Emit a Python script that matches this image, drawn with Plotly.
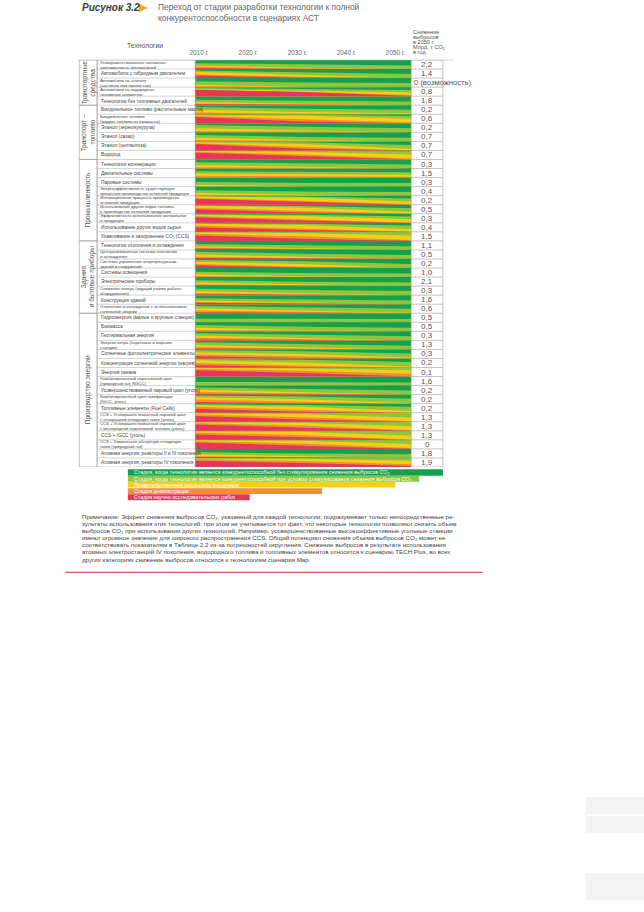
import plotly.graph_objects as go

W, H = 644, 912


def px(x):
    return x / W


def py(y):
    return 1 - y / H


FONT = "Liberation Sans, Arial, sans-serif"

# ---------------- data ----------------
years = [2010, 2020, 2030, 2040, 2050]
year_labels = ["2010 г.", "2020 г.", "2030 г.", "2040 г.", "2050 г."]
t_points = [2009.2, 2031.0, 2053.2]  # start / middle / end of each band

techs = [
    ["Усовершенствованная топливная", "экономичность автомобилей"],
    ["Автомобили с гибридным двигателем"],
    ["Автомобили на этаноле", "(частично или полностью)"],
    ["Автомобили на водородных", "топливных элементах"],
    ["Технологии без топливных двигателей"],
    ["Биодизельное топливо (растительные масла)"],
    ["Биодизельное топливо", "(жидкое топливо из биомассы)"],
    ["Этанол (зерно/кукуруза)"],
    ["Этанол (сахар)"],
    ["Этанол (целлюлоза)"],
    ["Водород"],
    ["Технологии когенерации"],
    ["Двигательные системы"],
    ["Паровые системы"],
    ["Энергоэффективность существующих", "процессов производства основной продукции"],
    ["Инновационные процессы производства", "основной продукции"],
    ["Использование других видов топлива", "в производстве основной продукции"],
    ["Эффективность использования материалов", "и продукции"],
    ["Использование других видов сырья"],
    ["Улавливание и захоронение CO₂ (CCS)"],
    ["Технологии отопления и охлаждения"],
    ["Централизованные системы отопления", "и охлаждения"],
    ["Системы управления энергоресурсами", "зданий и сооружений"],
    ["Системы освещения"],
    ["Электрические приборы"],
    ["Снижение потерь (ждущий режим работы", "оборудования)"],
    ["Конструкция зданий"],
    ["Отопление и охлаждение с использованием", "солнечной энергии"],
    ["Гидроэнергия (малые и крупные станции)"],
    ["Биомасса"],
    ["Геотермальная энергия"],
    ["Энергия ветра (береговые и морские", "станции)"],
    ["Солнечные фотоэлектрические элементы"],
    ["Концентрация солнечной энергии (нагрев)"],
    ["Энергия океана"],
    ["Комбинированный парогазовый цикл", "(природный газ, NGCC)"],
    ["Усовершенствованный паровой цикл (уголь)"],
    ["Комбинированный цикл газификации", "(IGCC, уголь)"],
    ["Топливные элементы (Fuel Cells)"],
    ["CCS + Усовершенствованный паровой цикл", "с сепарацией отходящих газов (уголь)"],
    ["CCS + Усовершенствованный паровой цикл", "с кислородной подготовкой топлива (уголь)"],
    ["CCS + IGCC (уголь)"],
    ["CCS + Химическая абсорбция отходящих", "газов (природный газ)"],
    ["Атомная энергия, реакторы II и III поколения"],
    ["Атомная энергия, реакторы IV поколения"],
]

values = ["2,2", "1,4", "0 (возможность)", "0,8", "1,8",
          "0,2", "0,6", "0,2", "0,7", "0,7", "0,7",
          "0,3", "1,5", "0,3", "0,4", "0,2", "0,5", "0,3", "0,4", "1,5",
          "1,1", "0,5", "0,2", "1,0", "2,1", "0,3", "1,6", "0,6",
          "0,5", "0,5", "0,3", "1,3", "0,3", "0,2", "0,1", "1,6", "0,2",
          "0,2", "0,2", "1,3", "1,3", "1,3", "0", "1,8", "1,9"]

group_names = [["Транспортные", "средства"], ["Транспорт –", "топливо"],
               ["Промышленность"], ["Здания", "и бытовые приборы"],
               ["Производство энергии"]]
group_rows = [(0, 5), (5, 11), (11, 20), (20, 28), (28, 45)]

# share of each row occupied by a stage at (start, middle, end); green = rest
red = [(.10, 0, 0), (.30, .05, 0), (0, 0, 0), (.70, .45, .02), (.10, .05, 0),
       (0, 0, 0), (.70, .20, 0), (0, 0, 0), (0, 0, 0), (.70, .20, 0), (.75, .35, 0),
       (0, 0, 0), (0, 0, 0), (0, 0, 0), (0, 0, 0), (.65, .30, 0), (.50, .15, 0),
       (.60, .25, 0), (.50, .20, 0), (.60, .25, 0),
       (.15, .05, 0), (.10, .03, 0), (.30, .05, 0), (0, 0, 0), (.10, .03, 0),
       (.10, .03, 0), (.15, .05, 0), (.10, .03, 0),
       (0, 0, 0), (0, 0, 0), (.10, .03, 0), (.10, .03, 0), (.25, .05, 0),
       (.25, .05, 0), (.70, .40, 0), (0, 0, 0), (.10, .03, 0), (.20, .05, 0),
       (.45, .10, 0), (.65, .25, 0), (.70, .35, 0), (.60, .30, 0), (.70, .35, 0),
       (.10, .03, 0), (.70, .45, .10)]
orange = [(.15, .05, 0), (.10, .10, 0), (.10, 0, 0), (.05, .05, .10), (.10, .05, 0),
          (.20, .05, 0), (.10, .25, .10), (.15, .05, 0), (.15, .05, 0), (.10, .20, 0), (.10, .20, .10),
          (.15, .05, 0), (.20, .15, .10), (0, 0, 0), (.10, 0, 0), (.10, .15, .05), (.15, .15, 0),
          (.15, .15, .05), (.20, .15, 0), (.20, .25, .10),
          (.10, .05, 0), (.15, .05, 0), (.15, .10, 0), (.10, 0, 0), (.10, .05, 0),
          (.15, .05, 0), (.10, .05, 0), (.20, .10, 0),
          (0, 0, 0), (.15, .05, 0), (.20, .10, 0), (.15, .05, 0), (.20, .15, 0),
          (.25, .15, 0), (.15, .25, .30), (0, 0, 0), (.20, .10, 0), (.25, .15, 0),
          (.20, .20, 0), (.15, .25, .05), (.15, .25, .05), (.20, .25, 0), (.15, .25, .10),
          (.10, .05, 0), (.15, .20, .20)]
yellow = [(.15, .10, 0), (.30, .20, .05), (.15, .05, 0), (.05, .15, .30), (.15, .10, .05),
          (.30, .20, .10), (.10, .40, .40), (.30, .15, 0), (.25, .10, 0), (.10, .30, .20), (.10, .30, .45),
          (.25, .15, .05), (.25, .20, .20), (.20, .05, 0), (.20, .10, 0), (.15, .35, .30), (.20, .40, .20),
          (.15, .35, .35), (.20, .40, .30), (.15, .35, .50),
          (.15, .10, 0), (.25, .15, 0), (.25, .30, 0), (.20, .10, 0), (.20, .10, 0),
          (.20, .15, 0), (.15, .10, 0), (.25, .20, .05),
          (0, 0, 0), (.25, .10, 0), (.25, .15, 0), (.25, .15, 0), (.25, .30, .10),
          (.30, .35, .10), (.10, .25, .40), (.05, 0, 0), (.25, .15, 0), (.25, .30, .05),
          (.20, .35, .20), (.15, .35, .40), (.10, .30, .45), (.15, .35, .45), (.10, .30, .45),
          (.20, .10, 0), (.10, .25, .40)]
light = [(.25, .35, .40), (.15, .30, .40), (.40, .45, .45), (.10, .15, .25), (.25, .30, .35),
         (.30, .35, .40), (.05, .10, .30), (.35, .40, .45), (.30, .35, .40), (.05, .20, .40), (.05, .10, .35),
         (.30, .35, .40), (.25, .30, .30), (.30, .35, .40), (.30, .35, .40), (.05, .10, .35), (.10, .15, .40),
         (.05, .15, .30), (.05, .15, .40), (.05, .15, .40),
         (.25, .30, .40), (.30, .35, .45), (.20, .30, .45), (.30, .35, .40), (.25, .30, .40),
         (.25, .35, .45), (.25, .30, .40), (.25, .35, .45),
         (.40, .38, .35), (.30, .35, .40), (.25, .35, .45), (.30, .35, .40), (.20, .30, .45),
         (.15, .30, .50), (.05, .10, .30), (.35, .35, .35), (.25, .35, .45), (.20, .30, .50),
         (.10, .20, .45), (.05, .15, .55), (.05, .10, .50), (.05, .10, .55), (.05, .10, .45),
         (.25, .30, .40), (.05, .10, .30)]

stage_colors = ["#14a04c", "#8dc63f", "#f6cf16", "#f18f34", "#e8365b"]
legend_texts = [
    "Стадия, когда технология является конкурентоспособной без стимулирования снижения выбросов CO₂",
    "Стадия, когда технология является конкурентоспособной при условии стимулирования снижения выбросов CO₂",
    "Правительственная поддержка внедрения",
    "Стадия демонстрации",
    "Стадия научно-исследовательских работ",
]

note_lines = [
    "Примечание: Эффект снижения выбросов CO₂, указанный для каждой технологии, подразумевает только непосредственные ре-",
    "зультаты использования этих технологий; при этом не учитывается тот факт, что некоторые технологии позволяют снизить объем",
    "выбросов CO₂ при использовании других технологий. Например, усовершенствованные высокоэффективные угольные станции",
    "имеют огромное значение для широкого распространения CCS. Общий потенциал снижения объема выбросов CO₂ может не",
    "соответствовать показателям в Таблице 2.2 из-за погрешностей округления. Снижение выбросов в результате использования",
    "атомных электростанций IV поколения, водородного топлива и топливных элементов относится к сценарию TECH Plus, во всех",
    "других категориях снижение выбросов относится к технологиям сценария Map.",
]

# ---------------- geometry ----------------
n = len(techs)
TOP, BOT = 60, 467
X0, X1 = 191, 409
LBL0 = 92
GRP0 = 74
VAL1 = 441

fig = go.Figure()

# stacked bands: each stage polygon runs from its upper boundary to the row bottom
layer_xs = [[] for _ in range(5)]
layer_ys = [[] for _ in range(5)]
for i in range(n):
    r, o, yy, l = red[i], orange[i], yellow[i], light[i]
    shares = []
    for k in range(3):
        g = 1 - r[k] - o[k] - yy[k] - l[k]
        shares.append([g, l[k], yy[k], o[k], r[k]])
    for s in range(5):
        upper = [i + sum(shares[k][:s]) for k in range(3)]
        xs = t_points + t_points[::-1] + [t_points[0], None]
        ys = upper + [i + 1] * 3 + [upper[0], None]
        layer_xs[s] += xs
        layer_ys[s] += ys

for s in range(5):
    fig.add_trace(go.Scatter(x=layer_xs[s], y=layer_ys[s], mode="lines",
                             fill="toself", fillcolor=stage_colors[s],
                             line=dict(width=0), hoverinfo="skip",
                             showlegend=False))

shapes = []
annotations = []
LINE = "#9a9a9a"

# row separators
for i in range(n + 1):
    shapes.append(dict(type="line", xref="paper", yref="y", x0=px(LBL0), x1=px(X1),
                       y0=i, y1=i, line=dict(color="rgba(120,120,120,0.55)", width=0.6)))
    shapes.append(dict(type="line", xref="paper", yref="y", x0=px(X1), x1=px(VAL1),
                       y0=i, y1=i, line=dict(color=LINE, width=0.6)))
# verticals
for xv in [LBL0, X0, X1, VAL1]:
    shapes.append(dict(type="line", xref="paper", yref="y", x0=px(xv), x1=px(xv),
                       y0=0, y1=n, line=dict(color=LINE, width=0.6)))
# group column
for (a, b) in group_rows:
    shapes.append(dict(type="rect", xref="paper", yref="y", x0=px(GRP0), x1=px(LBL0),
                       y0=a, y1=b, line=dict(color=LINE, width=0.6)))
# header line
shapes.append(dict(type="line", xref="paper", yref="paper", x0=px(73), x1=px(452),
                   y0=py(TOP), y1=py(TOP), line=dict(color="#bbbbbb", width=0.6)))

# row labels and values
for i, lines in enumerate(techs):
    if len(lines) == 1:
        annotations.append(dict(xref="paper", yref="y", x=px(94), y=i + 0.5, text=lines[0],
                                showarrow=False, xanchor="left", yanchor="middle",
                                font=dict(size=4.8, color="#444", family=FONT)))
    else:
        annotations.append(dict(xref="paper", yref="y", x=px(94), y=i + 0.5,
                                text="<br>".join(lines), showarrow=False, align="left",
                                xanchor="left", yanchor="middle", borderpad=0,
                                font=dict(size=4.2, color="#444", family=FONT)))
    v = values[i]
    if len(v) > 4:
        annotations.append(dict(xref="paper", yref="y", x=px(410), y=i + 0.5, text=v,
                                showarrow=False, xanchor="left", yanchor="middle",
                                font=dict(size=7.6, color="#555", family=FONT)))
    else:
        annotations.append(dict(xref="paper", yref="y", x=px(425), y=i + 0.5, text=v,
                                showarrow=False, xanchor="center", yanchor="middle",
                                font=dict(size=8, color="#555", family=FONT)))

# group labels (rotated)
for names, (a, b) in zip(group_names, group_rows):
    if len(names) == 1:
        xs_ = [83]
    else:
        xs_ = [79, 87]
    for nm, xg in zip(names, xs_):
        annotations.append(dict(xref="paper", yref="y", x=px(xg), y=(a + b) / 2, text=nm,
                                showarrow=False, textangle=-90, xanchor="center", yanchor="middle",
                                font=dict(size=6.6, color="#555", family=FONT)))

# title
annotations.append(dict(xref="paper", yref="paper", x=px(75), y=py(7.5),
                        text="<b><i>Рисунок 3.2</i></b>", showarrow=False,
                        xanchor="left", yanchor="middle",
                        font=dict(size=10, color="#3a3a3a", family=FONT)))
shapes.append(dict(type="path", xref="paper", yref="paper",
                   path=f"M {px(134)},{py(3.5)} L {px(143)},{py(8)} L {px(134)},{py(12.5)} Z",
                   fillcolor="#f6a623", line=dict(width=0)))
annotations.append(dict(xref="paper", yref="paper", x=px(151), y=py(7),
                        text="Переход от стадии разработки технологии к полной",
                        showarrow=False, xanchor="left", yanchor="middle",
                        font=dict(size=8.4, color="#666", family=FONT)))
annotations.append(dict(xref="paper", yref="paper", x=px(151), y=py(18),
                        text="конкурентоспособности в сценариях АСТ",
                        showarrow=False, xanchor="left", yanchor="middle",
                        font=dict(size=8.4, color="#666", family=FONT)))
annotations.append(dict(xref="paper", yref="paper", x=px(140), y=py(46),
                        text="Технологии", showarrow=False, xanchor="center", yanchor="middle",
                        font=dict(size=6.8, color="#555", family=FONT)))
for k, t in enumerate(["Снижение", "выбросов", "в 2050 г.", "Млрд. т CO₂", "в год"]):
    annotations.append(dict(xref="paper", yref="paper", x=px(409), y=py(32 + 5 * k),
                            text=t, showarrow=False, xanchor="left", yanchor="middle",
                            font=dict(size=5.6, color="#555", family=FONT)))

# legend bars
leg_y = [469.3, 475.7, 481.7, 488.2, 494.3]
leg_h = [6.4, 6.0, 5.7, 5.9, 6.0]
leg_x1 = [441, 417, 393, 319, 246]
for k in range(5):
    shapes.append(dict(type="rect", xref="paper", yref="paper", x0=px(123), x1=px(leg_x1[k]),
                       y0=py(leg_y[k]), y1=py(leg_y[k] + leg_h[k]),
                       fillcolor=stage_colors[k], line=dict(width=0)))
    annotations.append(dict(xref="paper", yref="paper", x=px(127.5), y=py(leg_y[k] + leg_h[k] / 2),
                            text=legend_texts[k], showarrow=False, xanchor="left", yanchor="middle",
                            font=dict(size=5.3, color="white", family=FONT)))

# note
for k, t in enumerate(note_lines):
    annotations.append(dict(xref="paper", yref="paper", x=px(74.5), y=py(516 + 7.17 * k),
                            text=t, showarrow=False, xanchor="left", yanchor="middle",
                            font=dict(size=6.2, color="#444", family=FONT)))

# red rule
shapes.append(dict(type="line", xref="paper", yref="paper", x0=px(60), x1=px(481),
                   y0=py(572.3), y1=py(572.3), line=dict(color="#c9302c", width=1)))

# faint page boxes at bottom right
for (ya, yb) in [(797, 814), (816, 833), (873, 900)]:
    shapes.append(dict(type="rect", xref="paper", yref="paper", x0=px(585), x1=px(644),
                       y0=py(ya), y1=py(yb), fillcolor="#f3f3f3", line=dict(width=0),
                       layer="below"))

fig.update_layout(
    width=W, height=H, margin=dict(l=0, r=0, t=0, b=0),
    paper_bgcolor="white", plot_bgcolor="white",
    shapes=shapes, annotations=annotations, showlegend=False,
    xaxis=dict(domain=[px(X0), px(X1)], range=[t_points[0], t_points[-1]],
               side="top", tickvals=years, ticktext=year_labels, ticks="",
               tickfont=dict(size=6.4, color="#666", family=FONT),
               showgrid=False, zeroline=False, showline=False, fixedrange=True,
               ticklabelstandoff=3),
    yaxis=dict(domain=[py(BOT), py(TOP)], range=[n, 0], visible=False,
               showgrid=False, zeroline=False, fixedrange=True),
)

fig.write_html("out.html", config={"displayModeBar": False},
               post_script="document.body.style.margin='0px';document.body.style.padding='0px';")
